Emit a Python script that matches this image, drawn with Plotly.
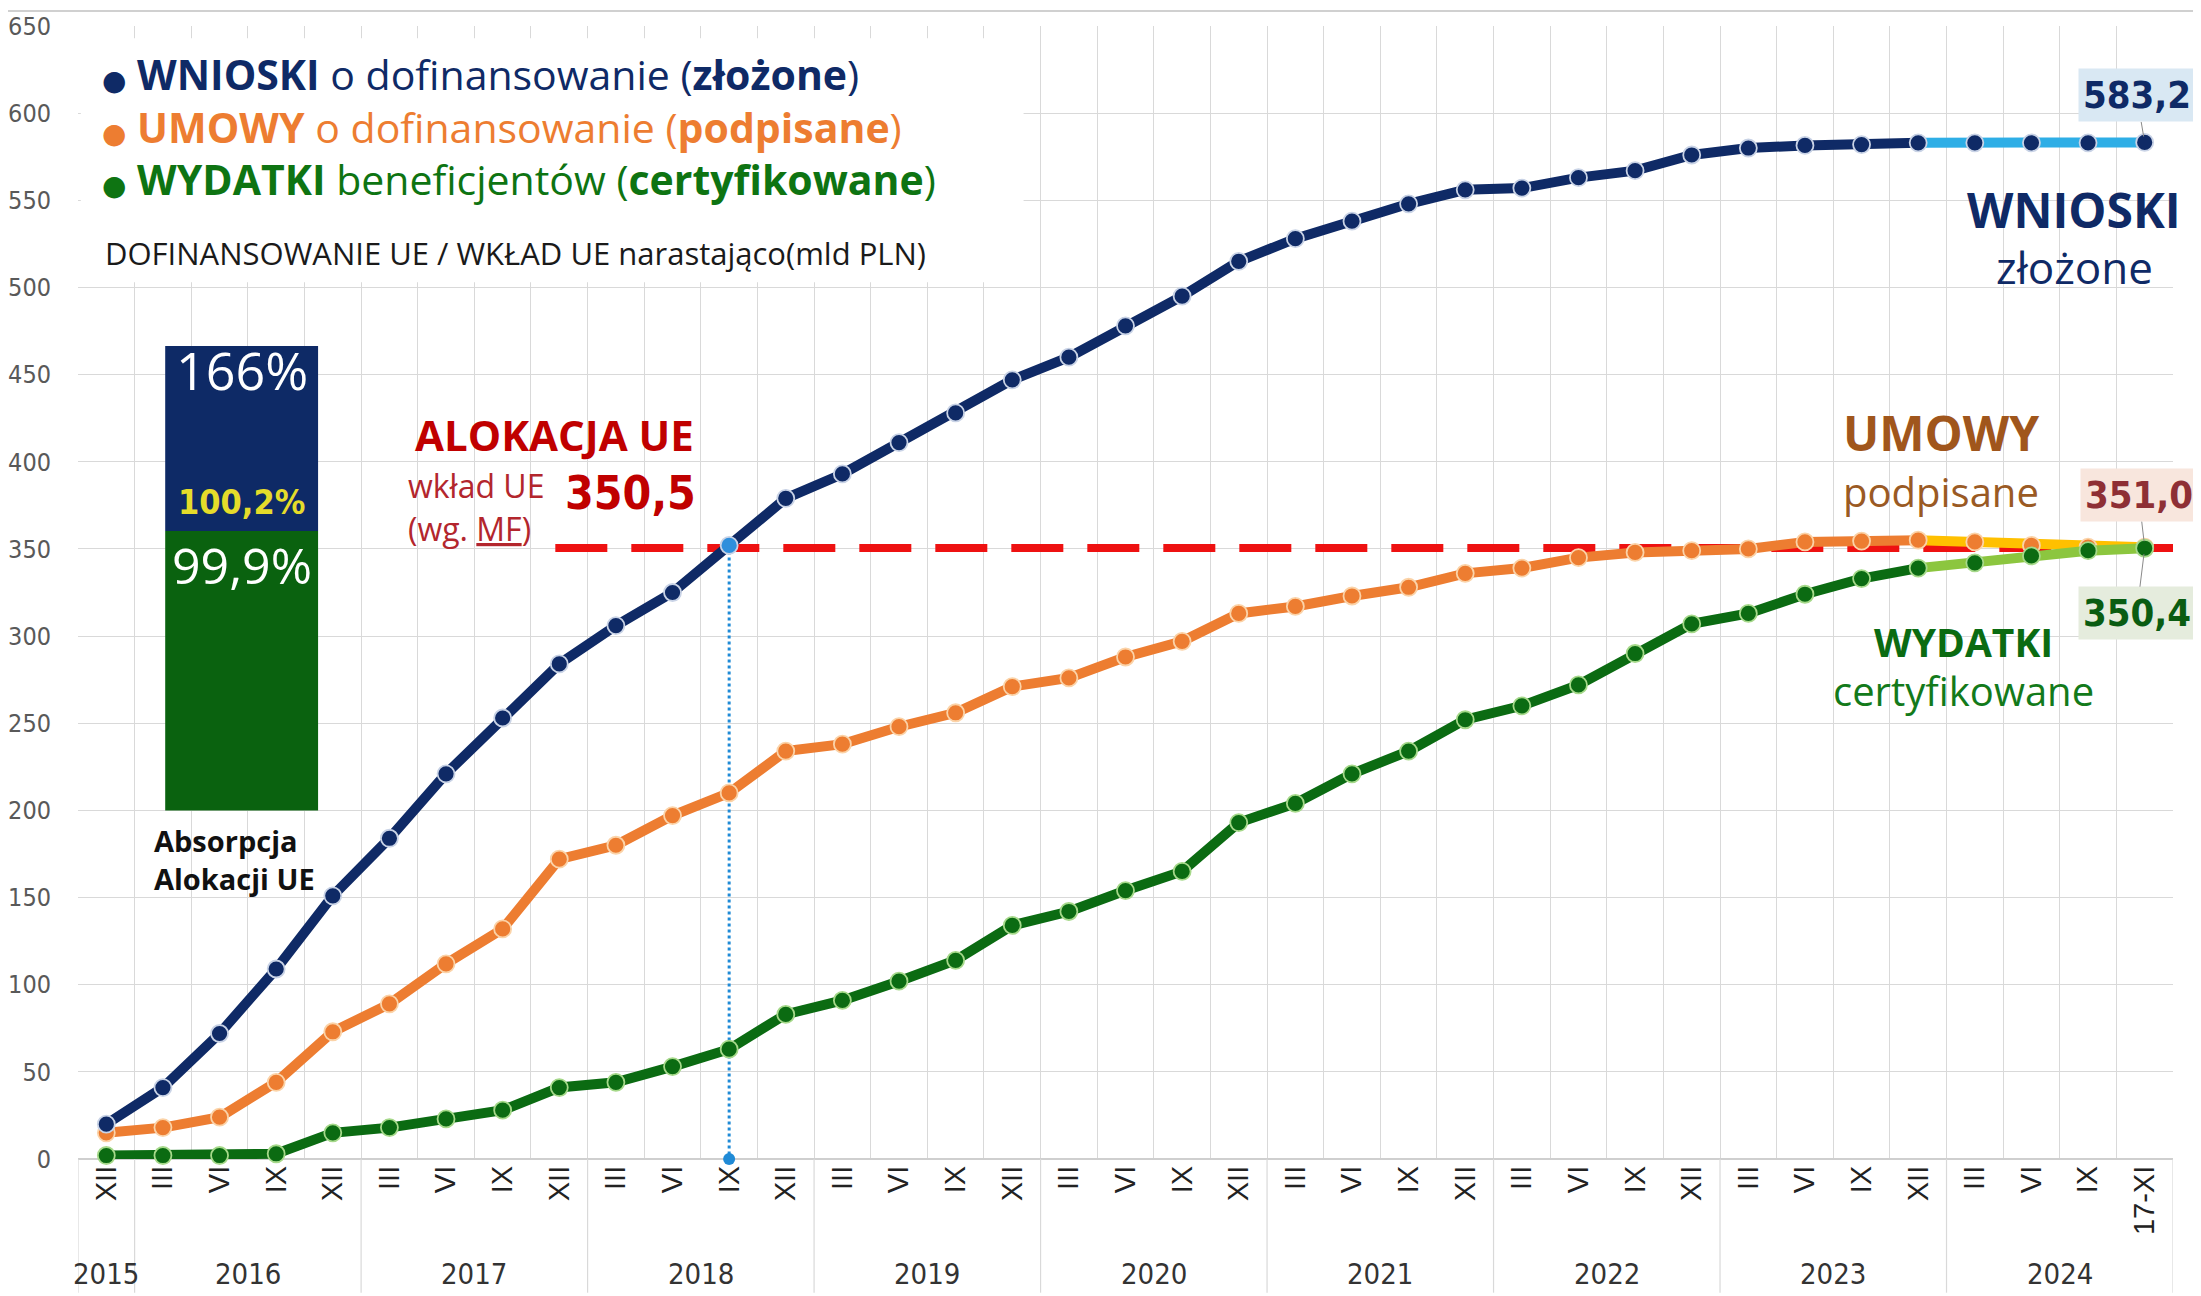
import plotly.graph_objects as go

# ---------------- data ----------------
MONTHS = ["XII"] + ["III", "VI", "IX", "XII"] * 8 + ["III", "VI", "IX", "17-XI"]
YEARS = ["2015", "2016", "2017", "2018", "2019", "2020", "2021", "2022", "2023", "2024"]
YEAR_COUNTS = [1, 4, 4, 4, 4, 4, 4, 4, 4, 4]

WNIOSKI = [20, 41, 72, 109, 151, 184, 221, 253, 284, 306, 325, 352, 379,
           393, 411, 428, 447, 460, 478, 495, 515, 528, 538, 548, 556,
           557, 563, 567, 576, 580, 581.5, 582, 583, 583, 583, 583, 583.2]
UMOWY = [15, 18, 24, 44, 73, 89, 112, 132, 172, 180, 197, 210, 234,
         238, 248, 256, 271, 276, 288, 297, 313, 317, 323, 328, 336,
         339, 345, 348, 349, 350, 354, 354.5, 355, 354, 352, 351, 351.0]
WYDATKI = [2, 2, 2, 3, 15, 18, 23, 28, 41, 44, 53, 63, 83,
           91, 102, 114, 134, 142, 154, 165, 193, 204, 221, 234, 252,
           260, 272, 290, 307, 313, 324, 333, 339, 342, 346, 349, 350.4]
ALOKACJA = 350.5
ABSORPCJA = {"wydatki": 99.9, "umowy": 100.2, "wnioski": 166}
LAST_LABELS = {"wnioski": "583,2", "umowy": "351,0", "wydatki": "350,4"}

# ---------------- styling ----------------
NAVY = "#0f2a66"
NAVY_TAIL = "#2eaee6"
ORANGE = "#ed7d31"
ORANGE_TAIL = "#ffc000"
GREEN = "#0b6b12"
GREEN_TAIL = "#8cc63f"
RED = "#ee1111"
DARKRED = "#c00000"
GRID = "#d9d9d9"
TAIL_START = 32
NARROW = "Liberation Sans Narrow, DejaVu Sans Condensed, Roboto, sans-serif"
GOTHIC = "Open Sans, DejaVu Sans, sans-serif"

N = len(MONTHS)
X = list(range(N))
HIGHLIGHT = next(i for i, v in enumerate(WNIOSKI) if v >= ALOKACJA)

fig = go.Figure()

# absorption bar (stacked, scaled from percentages)
BAR_X = 2.39
BAR_W = 2.7
BAR_BASE = 200
BAR_K = 1.605
fig.add_trace(go.Bar(x=[BAR_X], y=[ABSORPCJA["wydatki"] * BAR_K], base=[BAR_BASE],
                     width=[BAR_W], marker=dict(color="#0a620f", line=dict(width=0)),
                     hoverinfo="skip", showlegend=False))
fig.add_trace(go.Bar(x=[BAR_X], y=[(ABSORPCJA["wnioski"] - ABSORPCJA["wydatki"]) * BAR_K],
                     base=[BAR_BASE + ABSORPCJA["wydatki"] * BAR_K],
                     width=[BAR_W], marker=dict(color="#0e2a66", line=dict(width=0)),
                     hoverinfo="skip", showlegend=False))

# allocation dashed line
fig.add_trace(go.Scatter(x=[7.93, N - 0.5], y=[ALOKACJA, ALOKACJA], mode="lines",
                         line=dict(color=RED, width=8, dash="52px,24px"),
                         hoverinfo="skip", showlegend=False))

# blue dotted drop line
fig.add_trace(go.Scatter(x=[HIGHLIGHT, HIGHLIGHT], y=[WNIOSKI[HIGHLIGHT], 0], mode="lines",
                         line=dict(color="#1f8ad6", width=3, dash="dot"),
                         hoverinfo="skip", showlegend=False))
fig.add_trace(go.Scatter(x=[HIGHLIGHT], y=[0], mode="markers",
                         marker=dict(color="#1f8ad6", size=12), cliponaxis=False,
                         hoverinfo="skip", showlegend=False))


def add_series(vals, main_color, tail_color, mk_color, mk_line, mk_colors=None):
    fig.add_trace(go.Scatter(x=X[:TAIL_START + 1], y=vals[:TAIL_START + 1], mode="lines",
                             line=dict(color=main_color, width=10), hoverinfo="skip",
                             showlegend=False))
    fig.add_trace(go.Scatter(x=X[TAIL_START:], y=vals[TAIL_START:], mode="lines",
                             line=dict(color=tail_color, width=10), hoverinfo="skip",
                             showlegend=False))
    fig.add_trace(go.Scatter(x=X, y=vals, mode="markers",
                             marker=dict(color=mk_colors or mk_color, size=17,
                                         line=dict(color=mk_line, width=1.8)),
                             cliponaxis=False, hoverinfo="skip", showlegend=False))


add_series(UMOWY, ORANGE, ORANGE_TAIL, ORANGE, "#fbd3a8")
add_series(WYDATKI, GREEN, GREEN_TAIL, GREEN, "#a6d98a")
navy_colors = ["#2f8fdc" if i == HIGHLIGHT else NAVY for i in X]
add_series(WNIOSKI, NAVY, NAVY_TAIL, NAVY, "#c9d3e6", navy_colors)

# ---------------- shapes ----------------
shapes = []
# white box behind legend text
shapes.append(dict(type="rect", xref="x", yref="y", x0=-0.45, x1=16.2, y0=503, y1=643,
                   fillcolor="white", line=dict(width=0), layer="between"))
# year separators extending below axis
seps = [-0.5]
acc = 0
for c in YEAR_COUNTS:
    acc += c
    seps.append(acc - 0.5)
for s in seps:
    shapes.append(dict(type="line", xref="x", yref="paper", x0=s, x1=s, y0=0, y1=-0.118,
                       line=dict(color=GRID, width=1.2)))
# top border line of the image
shapes.append(dict(type="line", xref="paper", yref="paper", x0=-0.04, x1=1.02,
                   y0=1.0132, y1=1.0132, line=dict(color="#d0d0d0", width=2)))

# ---------------- annotations ----------------
ann = []


def T(x, y, text, size, color, family=GOTHIC, xanchor="center", yanchor="middle", **kw):
    ann.append(dict(x=x, y=y, xref="x", yref="y", text=text, showarrow=False,
                    font=dict(size=size, color=color, family=family),
                    xanchor=xanchor, yanchor=yanchor, **kw))


bul = "<span style='font-size:28px'>●</span> "
T(-0.12, 622.6, bul + "<b>WNIOSKI</b> o dofinansowanie (<b>złożone</b>)", 41, NAVY, xanchor="left")
T(-0.12, 592, bul + "<b>UMOWY</b> o dofinansowanie (<b>podpisane</b>)", 41, ORANGE, xanchor="left")
T(-0.12, 562, bul + "<b>WYDATKI</b> beneficjentów (<b>certyfikowane</b>)", 41, "#0e7412", xanchor="left")
T(-0.05, 519.5, "DOFINANSOWANIE UE / WKŁAD UE narastająco(mld PLN)", 31, "#1a1a1a", xanchor="left")

# bar labels
T(BAR_X, 452.7, "166%", 52, "white")
T(BAR_X, 377, "<b>100,2%</b>", 34, "#e5dc2a", family=NARROW)
T(BAR_X, 340.7, "99,9%", 50, "white")
T(0.8, 172, "<b>Absorpcja<br>Alokacji UE</b>", 29, "#111111", xanchor="left", align="left")

# allocation labels
T(7.91, 415.5, "<b>ALOKACJA UE</b>", 42, DARKRED)
T(5.3, 386.5, "wkład UE", 32, "#b3262d", xanchor="left")
T(5.3, 361.7, "(wg. <u>MF</u>)", 32, "#b3262d", xanchor="left")
T(9.25, 382, "<b>350,5</b>", 46, DARKRED, family=NARROW)

# series labels
T(34.76, 545, "<b>WNIOSKI</b>", 48, NAVY)
T(34.76, 512, "złożone", 44, NAVY)
T(32.4, 417, "<b>UMOWY</b>", 48, "#a0561c")
T(32.4, 383, "podpisane", 40, "#9a5a24")
T(32.8, 297, "<b>WYDATKI</b>", 39, GREEN)
T(32.8, 269, "certyfikowane", 40, "#137a1b")


# last value boxes with connectors
def last_box(val, text, color, bg, ax, ay):
    ann.append(dict(x=N - 1, y=val, xref="x", yref="y", text="<b>" + text + "</b>",
                    showarrow=True, arrowhead=0, arrowwidth=1, arrowcolor="#8a8a8a",
                    ax=ax, ay=ay, standoff=6, bgcolor=bg, borderpad=4,
                    font=dict(size=38, color=color, family=NARROW)))


last_box(WNIOSKI[-1], LAST_LABELS["wnioski"], NAVY, "#d9e8f3", -8, -47)
last_box(UMOWY[-1], LAST_LABELS["umowy"], "#8e2f35", "#f8e6dd", -6, -52)
last_box(WYDATKI[-1], LAST_LABELS["wydatki"], "#0a5c12", "#e5ecdd", -8, 65)

# year labels
start = 0
for yr, c in zip(YEARS, YEAR_COUNTS):
    center = start + (c - 1) / 2
    ann.append(dict(x=center, y=-0.1015, xref="x", yref="paper", text=yr, showarrow=False,
                    font=dict(size=29, color="#333333", family=NARROW),
                    xanchor="center", yanchor="middle"))
    start += c

fig.update_layout(
    width=2201, height=1296,
    margin=dict(l=70, r=36, t=18, b=145, autoexpand=False),
    paper_bgcolor="white", plot_bgcolor="white",
    barmode="overlay", showlegend=False,
    shapes=shapes, annotations=ann,
    xaxis=dict(range=[-0.5, N - 0.5], tickmode="array", tickvals=X, ticktext=MONTHS,
               tickangle=-90, showgrid=False, zeroline=False, showline=False, ticks="",
               automargin=False,
               tickfont=dict(size=29, color="#222222", family="Liberation Sans, Arial, sans-serif"),
               minor=dict(tickmode="array", tickvals=[i - 0.5 for i in range(N + 1)],
                          showgrid=True, gridcolor=GRID, gridwidth=1, ticks="")),
    yaxis=dict(range=[0, 650], tickmode="linear", tick0=0, dtick=50,
               showgrid=True, gridcolor=GRID, gridwidth=1.2,
               zeroline=True, zerolinecolor="#cfcfcf", zerolinewidth=1.5,
               showline=False, ticks="", ticklabelstandoff=26, automargin=False,
               tickfont=dict(size=25, color="#595959", family=NARROW)),
)

fig.write_html("out.html")
